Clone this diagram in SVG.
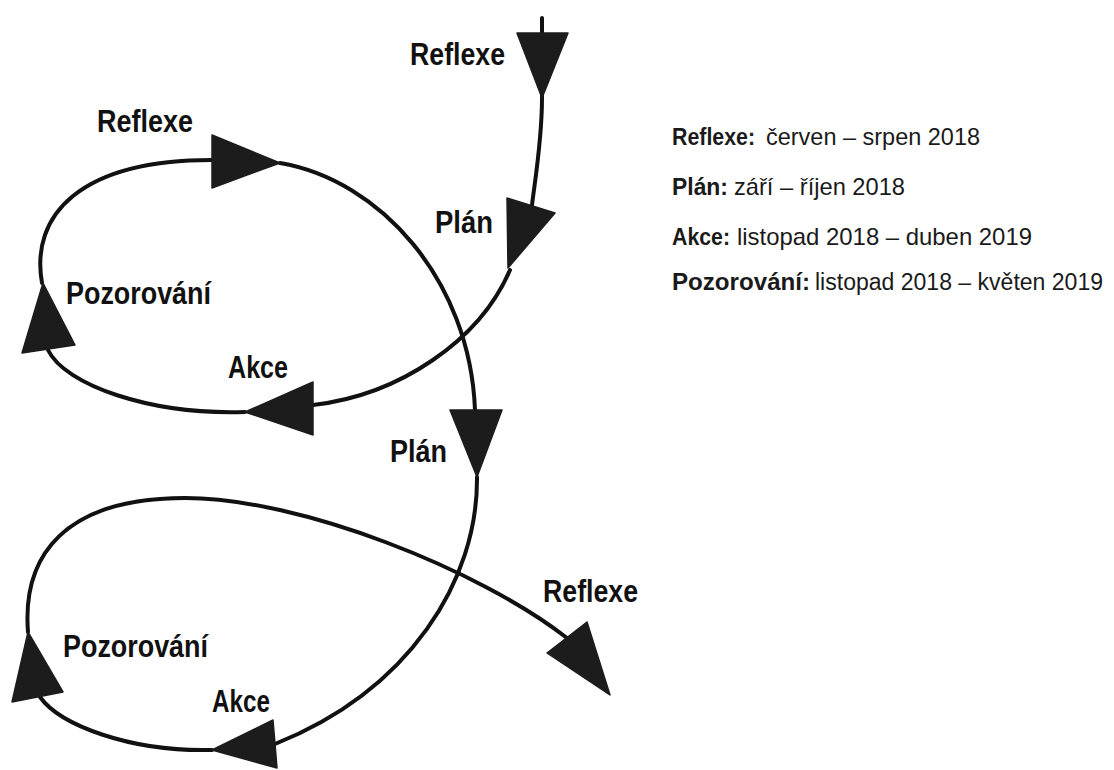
<svg xmlns="http://www.w3.org/2000/svg" width="1114" height="770" viewBox="0 0 1114 770">
<style>
.bg{fill:#ffffff}
.line{fill:none;stroke:#111;stroke-width:4;stroke-linecap:round}
.head{fill:#1c1c1c;stroke:#1c1c1c;stroke-width:1.5;stroke-linejoin:round}
.lbl{font-family:"Liberation Sans",Arial,sans-serif;font-weight:bold;font-size:31px;fill:#111}
.leg{font-family:"Liberation Sans",Arial,sans-serif;font-size:24px;fill:#1a1a1a}
.sm{font-size:23px}
.b{font-weight:bold}
</style>
<rect class="bg" x="0" y="0" width="1114" height="770"/>
<g id="connectors">
  <path class="line" d="M542,18 L542,98 C542,140 535,180 532,205"/>
  <path class="line" d="M510,270 C480,340 400,395 313,405"/>
  <path class="line" d="M245,412 C150,415 65,385 48,350"/>
  <path class="line" d="M42,283 C30,215 80,160 212,160"/>
  <path class="line" d="M280,163 C380,180 470,280 475,410"/>
  <path class="line" d="M477,477 C478,580 410,690 275,744"/>
  <path class="line" d="M212,750 C130,752 60,725 40,697"/>
  <path class="line" d="M28,632 C22,555 65,498 185,498 C300,498 480,570 567,638"/>
  <polygon class="head" points="517,33 568,33 542,98"/>
  <polygon class="head" points="507,198 555,213 508,268"/>
  <polygon class="head" points="313,382 313,435 245,412"/>
  <polygon class="head" points="22,353 75,345 43,283"/>
  <polygon class="head" points="212,135 212,188 280,163"/>
  <polygon class="head" points="450,410 502,410 477,477"/>
  <polygon class="head" points="212,750 273,720 277,768"/>
  <polygon class="head" points="12,702 63,692 28,632"/>
  <polygon class="head" points="547,653 587,622 610,695"/>
</g>
<g id="reflexe-start"><text class="lbl" x="410" y="65" textLength="95" lengthAdjust="spacingAndGlyphs">Reflexe</text></g>
<g id="plan-1"><text class="lbl" x="435" y="233" textLength="58" lengthAdjust="spacingAndGlyphs">Plán</text></g>
<g id="akce-1"><text class="lbl" x="228" y="378" textLength="60" lengthAdjust="spacingAndGlyphs">Akce</text></g>
<g id="pozorovani-1"><text class="lbl" x="66" y="304" textLength="145" lengthAdjust="spacingAndGlyphs">Pozorování</text></g>
<g id="reflexe-1"><text class="lbl" x="97" y="132" textLength="96" lengthAdjust="spacingAndGlyphs">Reflexe</text></g>
<g id="plan-2"><text class="lbl" x="390" y="462" textLength="57" lengthAdjust="spacingAndGlyphs">Plán</text></g>
<g id="pozorovani-2"><text class="lbl" x="63" y="657" textLength="145" lengthAdjust="spacingAndGlyphs">Pozorování</text></g>
<g id="akce-2"><text class="lbl" x="212" y="712" textLength="58" lengthAdjust="spacingAndGlyphs">Akce</text></g>
<g id="reflexe-2"><text class="lbl" x="543" y="602" textLength="95" lengthAdjust="spacingAndGlyphs">Reflexe</text></g>
<g id="legend">
  <text class="leg b" x="672" y="145" textLength="83" lengthAdjust="spacingAndGlyphs">Reflexe:</text>
  <text class="leg" x="766" y="145" textLength="214" lengthAdjust="spacingAndGlyphs">červen – srpen 2018</text>
  <text class="leg b" x="672" y="195" textLength="56" lengthAdjust="spacingAndGlyphs">Plán:</text>
  <text class="leg" x="734" y="195" textLength="171" lengthAdjust="spacingAndGlyphs">září – říjen 2018</text>
  <text class="leg b" x="672" y="245" textLength="58" lengthAdjust="spacingAndGlyphs">Akce:</text>
  <text class="leg" x="737" y="245" textLength="295" lengthAdjust="spacingAndGlyphs">listopad 2018 – duben 2019</text>
  <text class="leg b sm" x="672" y="290" textLength="138" lengthAdjust="spacingAndGlyphs">Pozorování:</text>
  <text class="leg sm" x="815" y="290" textLength="288" lengthAdjust="spacingAndGlyphs">listopad 2018 – květen 2019</text>
</g>
</svg>
